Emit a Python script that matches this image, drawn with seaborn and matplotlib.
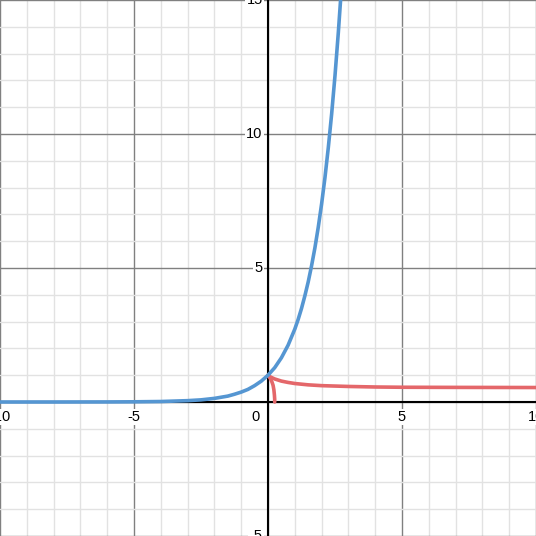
import numpy as np
import seaborn as sns
import matplotlib
matplotlib.use("Agg")
import matplotlib.pyplot as plt

# blue curve
blue_x = [-10, -8, -6, -5, -4, -3, -2.5, -2, -1.5, -1.25, -1, -0.75, -0.5, -0.25,
          0, 0.25, 0.5, 0.75, 1, 1.125, 1.25, 1.375, 1.5, 1.625, 1.75, 1.875, 2,
          2.125, 2.25, 2.375, 2.5, 2.625, 2.75]
blue_y = [0.0, 0.0003, 0.0025, 0.007, 0.018, 0.05, 0.08, 0.135, 0.22, 0.29, 0.37, 0.47,
          0.61, 0.78, 1.0, 1.28, 1.65, 2.12, 2.72, 3.08, 3.49, 3.96, 4.48, 5.08, 5.75,
          6.52, 7.39, 8.37, 9.49, 10.75, 12.18, 13.8, 15.6]

# red curve, upper branch
red_x = [0, 0.05, 0.1, 0.25, 0.5, 0.75, 1, 1.5, 2, 3, 4, 5, 7, 10]
red_y = [1.0, 0.96, 0.93, 0.86, 0.78, 0.73, 0.69, 0.64, 0.61, 0.58, 0.56, 0.55, 0.545, 0.54]

# red curve, lower branch
red2_x = [0, 0.05, 0.1, 0.15, 0.19, 0.22, 0.24, 0.25, 0.25]
red2_y = [1.0, 0.93, 0.85, 0.74, 0.62, 0.45, 0.25, 0.1, 0.0]

x_labels = [-10, -5, 5, 10]
y_labels = [-5, 5, 10, 15]

sns.set_style("white")
plt.rcParams['font.family'] = ['Liberation Sans', 'DejaVu Sans']

fig = plt.figure(figsize=(5.36, 5.36), dpi=100)
ax = fig.add_axes([0, 0, 1, 1])
ax.set_xlim(-10, 10)
ax.set_ylim(-5, 15)

# grid
for v in range(-10, 11):
    ax.axvline(v, color='#808080' if v % 5 == 0 else '#e2e2e2', lw=1, zorder=0)
for v in range(-5, 16):
    ax.axhline(v, color='#808080' if v % 5 == 0 else '#e2e2e2', lw=1, zorder=0)
ax.axhline(0, color='black', lw=1.5, zorder=1)
ax.axvline(0, color='black', lw=1.5, zorder=1)

sns.lineplot(x=blue_x, y=blue_y, sort=False, estimator=None, color='#5596d2', lw=2.6, ax=ax, zorder=3)
sns.lineplot(x=red_x, y=red_y, sort=False, estimator=None, color='#e4676a', lw=2.6, ax=ax, zorder=2)
sns.lineplot(x=red2_x, y=red2_y, sort=False, estimator=None, color='#e4676a', lw=2.6, ax=ax, zorder=2)

ax.set_xticks([])
ax.set_yticks([])
for s in ax.spines.values():
    s.set_visible(False)

box = dict(facecolor='white', edgecolor='none', pad=1)
for v in x_labels:
    ax.text(v, -0.3, str(v), ha='center', va='top', fontsize=10.5, color='black', bbox=box, zorder=4)
ax.text(-0.3, -0.3, '0', ha='right', va='top', fontsize=10.5, color='black', bbox=box, zorder=4)
for v in y_labels:
    ax.text(-0.2, v, str(v), ha='right', va='center', fontsize=10.5, color='black', bbox=box, zorder=4)

fig.savefig('out.png', dpi=100)
